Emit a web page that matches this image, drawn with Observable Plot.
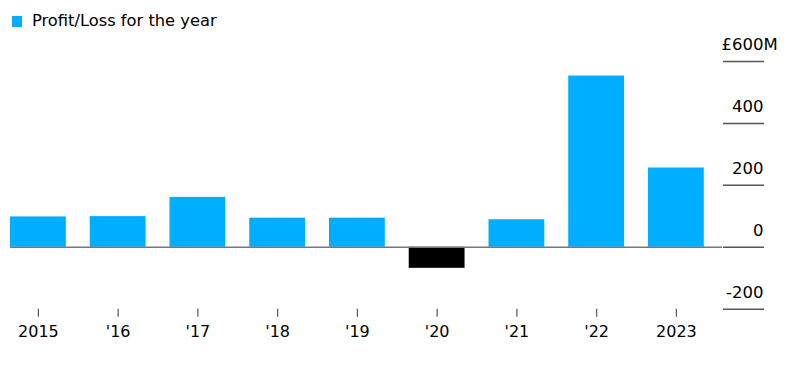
<!DOCTYPE html>
<html>
<head>
<meta charset="utf-8">
<script src="https://cdn.jsdelivr.net/npm/d3@7"></script>
<script src="https://cdn.jsdelivr.net/npm/@observablehq/plot@0.6"></script>
<style>
  body { margin: 0; background: #fff; font-family: "DejaVu Sans", sans-serif; }
  #legend { height: 30px; position: relative; }
  #legend .sw { position: absolute; left: 12px; top: 16px; width: 10px; height: 11px; background: #00aeff; }
  #legend .lb { position: absolute; left: 32px; top: 11px; font-size: 16.3px; color: #000; line-height: 20px; }
  svg { overflow: visible; }
</style>
</head>
<body>
<div id="legend"><span class="sw"></span><span class="lb">Profit/Loss for the year</span></div>
<div id="chart"></div>
<script>
const years = ["2015", "'16", "'17", "'18", "'19", "'20", "'21", "'22", "2023"];
const values = [98, 99, 161, 94, 94, -68, 89, 553, 256];
const yTicks = [-200, 0, 200, 400, 600];
const yTickLabels = ["-200", "0", "200", "400", "£600M"];
const topTick = 600;

const data = years.map((y, i) => ({ year: y, value: values[i] }));

const chart = Plot.plot({
  width: 805,
  height: 335,
  marginLeft: 10,
  marginRight: 83,
  marginTop: 31,
  marginBottom: 56.3,
  style: { fontFamily: "DejaVu Sans, sans-serif", fontSize: "16px", color: "#000", background: "#fff", overflow: "visible" },
  x: { type: "band", domain: years, range: [10, 703.8], paddingInner: 0.3, paddingOuter: 0, round: false, label: null },
  y: { domain: [-200, 600], label: null },
  color: { type: "identity" },
  marks: [
    Plot.barY(data, { x: "year", y: "value", fill: d => d.value < 0 ? "#000000" : "#00aeff" }),
    Plot.ruleY([0], { stroke: "#777", strokeWidth: 1.5 }),
    Plot.axisY({ anchor: "right", ticks: yTicks, tickSize: 41, tickFormat: () => "", stroke: "#555", strokeWidth: 1.5, label: null }),
    Plot.axisY({ anchor: "right", ticks: yTicks.filter(t => t !== topTick), tickSize: 0, tickPadding: 41, textAnchor: "end", dy: -16.5,
      tickFormat: d => yTickLabels[yTicks.indexOf(d)], fontSize: 16.5, fill: "#000", label: null }),
    Plot.text([topTick], { y: d => d, frameAnchor: "right", textAnchor: "start", dx: -1, dy: -16.5,
      text: d => yTickLabels[yTicks.indexOf(d)], fontSize: 16.5, fill: "#000" }),
    Plot.axisX({ anchor: "bottom", tickSize: 8, tickPadding: 8.3, stroke: "#555", strokeWidth: 1.2, fontSize: 16, fill: "#000", label: null })
  ]
});
document.getElementById("chart").appendChild(chart);
</script>
</body>
</html>
